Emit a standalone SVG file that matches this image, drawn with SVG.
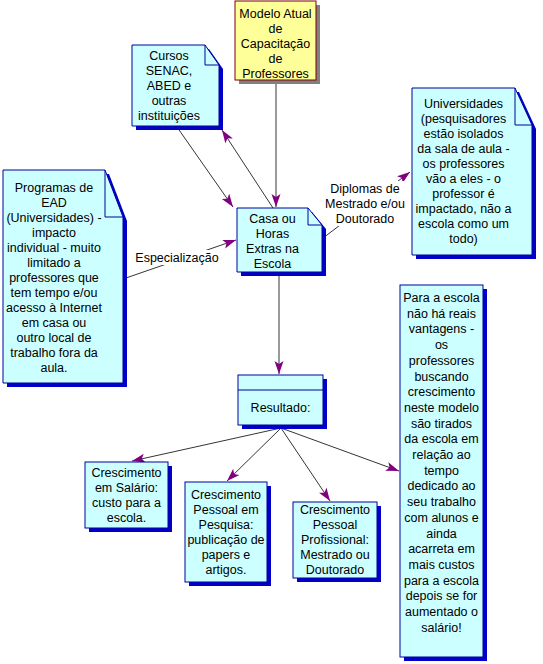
<svg xmlns="http://www.w3.org/2000/svg" width="543" height="664" viewBox="0 0 543 664">
<defs>
<style>
text{font-family:"Liberation Sans",Arial,sans-serif;font-size:12.5px;fill:#000;text-anchor:middle}
.box{fill:#ccffff;stroke:#0000a0;stroke-width:1}
.sh{fill:#0000c8}
.fold{fill:none;stroke:#0000a0;stroke-width:1}
.ybox{fill:#ffff99;stroke:#800000;stroke-width:1}
.ysh{fill:#808080}
.con{fill:none;stroke:#000;stroke-width:0.8}
.lbg{fill:#fff}
</style>
<marker id="ah" markerUnits="userSpaceOnUse" markerWidth="14" markerHeight="10" refX="13" refY="4.5" orient="auto">
<path d="M0,0 L13,4.5 L0,9 L3,4.5 Z" fill="#800080"/>
</marker>
</defs>
<rect width="543" height="664" fill="#fff"/>

<g id="connectors">
<line class="con" x1="276" y1="81" x2="276" y2="207" marker-end="url(#ah)"/>
<line class="con" x1="177" y1="127" x2="233" y2="207" marker-end="url(#ah)"/>
<line class="con" x1="273" y1="208" x2="222" y2="130" marker-end="url(#ah)"/>
<line class="con" x1="123" y1="279" x2="236" y2="240" marker-end="url(#ah)"/>
<line class="con" x1="323" y1="238" x2="410" y2="172" marker-end="url(#ah)"/>
<line class="con" x1="279" y1="272" x2="279" y2="374" marker-end="url(#ah)"/>
<line class="con" x1="281" y1="428" x2="132" y2="461" marker-end="url(#ah)"/>
<line class="con" x1="281" y1="428" x2="227" y2="481" marker-end="url(#ah)"/>
<line class="con" x1="281" y1="428" x2="330" y2="501" marker-end="url(#ah)"/>
<line class="con" x1="281" y1="428" x2="399" y2="471" marker-end="url(#ah)"/>
<g id="label-especializacao">
<rect class="lbg" x="135" y="250" width="86" height="15"/>
<text x="177" y="262">Especialização</text>
</g>
<g id="label-diplomas">
<rect class="lbg" x="325" y="181" width="82" height="45"/>
<text x="365" y="193">Diplomas de</text>
<text x="365" y="208">Mestrado e/ou</text>
<text x="365" y="223">Doutorado</text>
</g>
</g>

<g id="modelo">
<rect class="ysh" x="239" y="5" width="81" height="79"/>
<rect class="ybox" x="235" y="1" width="81" height="79"/>
<text x="275.5" y="18">Modelo Atual</text>
<text x="275.5" y="33">de</text>
<text x="275.5" y="48">Capacitação</text>
<text x="275.5" y="63">de</text>
<text x="275.5" y="78">Professores</text>
</g>

<g id="cursos">
<path class="sh" d="M136,49 H209 L223,69 V130 H136 Z"/>
<path class="box" d="M132,45 H205 L219,65 V126 H132 Z"/>
<path class="fold" d="M205,45 V65 H219"/>
<text x="169" y="60">Cursos</text>
<text x="169" y="75">SENAC,</text>
<text x="169" y="90">ABED e</text>
<text x="169" y="105">outras</text>
<text x="169" y="120">instituições</text>
</g>

<g id="programas">
<path class="sh" d="M7,174 H109 L127,221 V387 H7 Z"/>
<path class="box" d="M3,170 H105 L123,217 V383 H3 Z"/>
<path class="fold" d="M105,170 V217 H123"/>
<text x="54" y="191.5">Programas de</text>
<text x="54" y="206.5">EAD</text>
<text x="54" y="221.5">(Universidades) -</text>
<text x="54" y="236.5">impacto</text>
<text x="54" y="251.5">individual - muito</text>
<text x="54" y="266.5">limitado a</text>
<text x="54" y="281.5">professores que</text>
<text x="54" y="296.5">tem tempo e/ou</text>
<text x="54" y="311.5">acesso à Internet</text>
<text x="54" y="326.5">em casa ou</text>
<text x="54" y="341.5">outro local de</text>
<text x="54" y="356.5">trabalho fora da</text>
<text x="54" y="371.5">aula.</text>
</g>

<g id="casa">
<path class="sh" d="M241,212 H312 L326,229 V276 H241 Z"/>
<path class="box" d="M237,208 H308 L322,225 V272 H237 Z"/>
<path class="fold" d="M308,208 V225 H322"/>
<text x="272.5" y="222.5">Casa ou</text>
<text x="272.5" y="237.5">Horas</text>
<text x="272.5" y="252.5">Extras na</text>
<text x="272.5" y="267.5">Escola</text>
</g>

<g id="universidades">
<path class="sh" d="M416,92 H519 L536,129 V259 H416 Z"/>
<path class="box" d="M412,88 H515 L532,125 V255 H412 Z"/>
<path class="fold" d="M515,88 V125 H532"/>
<text x="463.5" y="108">Universidades</text>
<text x="463.5" y="123">(pesquisadores</text>
<text x="463.5" y="138">estão isolados</text>
<text x="463.5" y="153">da sala de aula -</text>
<text x="463.5" y="168">os professores</text>
<text x="463.5" y="183">vão a eles - o</text>
<text x="463.5" y="198">professor é</text>
<text x="463.5" y="213">impactado, não a</text>
<text x="463.5" y="228">escola como um</text>
<text x="463.5" y="243">todo)</text>
</g>

<g id="resultado">
<rect class="sh" x="242" y="379" width="85" height="50"/>
<rect class="box" x="238" y="375" width="85" height="50"/>
<line class="fold" x1="238" y1="390" x2="323" y2="390"/>
<text x="280.5" y="412">Resultado:</text>
</g>

<g id="salario">
<rect class="sh" x="89" y="466" width="83" height="66"/>
<rect class="box" x="85" y="462" width="83" height="66"/>
<text x="126.5" y="477">Crescimento</text>
<text x="126.5" y="492">em Salário:</text>
<text x="126.5" y="507">custo para a</text>
<text x="126.5" y="522">escola.</text>
</g>

<g id="pesquisa">
<rect class="sh" x="189" y="486" width="82" height="100"/>
<rect class="box" x="185" y="482" width="82" height="100"/>
<text x="226" y="499">Crescimento</text>
<text x="226" y="514">Pessoal em</text>
<text x="226" y="529">Pesquisa:</text>
<text x="226" y="544">publicação de</text>
<text x="226" y="559">papers e</text>
<text x="226" y="574">artigos.</text>
</g>

<g id="profissional">
<rect class="sh" x="297" y="506" width="84" height="76"/>
<rect class="box" x="293" y="502" width="84" height="76"/>
<text x="335" y="514">Crescimento</text>
<text x="335" y="529">Pessoal</text>
<text x="335" y="544">Profissional:</text>
<text x="335" y="559">Mestrado ou</text>
<text x="335" y="574">Doutorado</text>
</g>

<g id="para-escola">
<rect class="sh" x="404" y="289" width="83" height="372"/>
<rect class="box" x="400" y="285" width="83" height="372"/>
<text x="441.5" y="302">Para a escola</text>
<text x="441.5" y="317.7">não há reais</text>
<text x="441.5" y="333.4">vantagens -</text>
<text x="441.5" y="349.1">os</text>
<text x="441.5" y="364.8">professores</text>
<text x="441.5" y="380.5">buscando</text>
<text x="441.5" y="396.2">crescimento</text>
<text x="441.5" y="411.9">neste modelo</text>
<text x="441.5" y="427.6">são tirados</text>
<text x="441.5" y="443.3">da escola em</text>
<text x="441.5" y="459">relação ao</text>
<text x="441.5" y="474.7">tempo</text>
<text x="441.5" y="490.4">dedicado ao</text>
<text x="441.5" y="506.1">seu trabalho</text>
<text x="441.5" y="521.8">com alunos e</text>
<text x="441.5" y="537.5">ainda</text>
<text x="441.5" y="553.2">acarreta em</text>
<text x="441.5" y="568.9">mais custos</text>
<text x="441.5" y="584.6">para a escola</text>
<text x="441.5" y="600.3">depois se for</text>
<text x="441.5" y="616">aumentado o</text>
<text x="441.5" y="631.7">salário!</text>
</g>
</svg>
